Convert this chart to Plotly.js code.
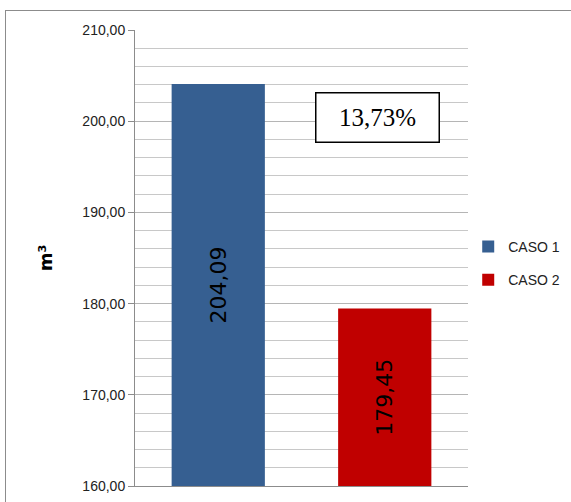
<!DOCTYPE html>
<html><head><meta charset="utf-8">
<script src="https://cdn.plot.ly/plotly-3.0.1.min.js"></script>
<style>
html,body{margin:0;padding:0;background:#fff;}
#frame{position:absolute;left:5px;top:10px;width:580px;height:510px;border:1.5px solid #8c8c8c;box-sizing:border-box;}
#chart{position:absolute;left:0;top:0;width:571px;height:502px;}
</style>
</head><body>
<div id="frame"></div>
<div id="chart"></div>
<script>
var categories = ['CASO 1', 'CASO 2'];
var values = [204.09, 179.45];
var labels = ['204,09', '179,45'];
var colors = ['#365F91', '#C00000'];
var diffLabel = '13,73%';
var axisMin = 160;

var traces = categories.map(function(c, i){
  return {
    type:'bar', name:c, x:[c], y:[values[i] - axisMin], base:axisMin, width:0.56,
    marker:{color:colors[i], line:{width:0}},
    text:[labels[i]], textposition:'inside', insidetextanchor:'middle',
    textangle:-90, textfont:{family:'DejaVu Sans', size:22, color:'#000'},
    hoverinfo:'none', legendgroup:'g'+i
  };
});

var layout = {
  width:571, height:502,
  margin:{l:135, r:103, t:30, b:16},
  paper_bgcolor:'rgba(0,0,0,0)', plot_bgcolor:'#fff',
  barmode:'overlay', separators:',.', showlegend:true,
  font:{family:'Liberation Sans, Arial', color:'#222'},
  xaxis:{type:'category', showticklabels:false, ticks:'', showgrid:false,
         showline:true, linecolor:'#8c8c8c', linewidth:1, zeroline:false, fixedrange:true},
  yaxis:{range:[160,210], dtick:10, tick0:160, tickformat:'.2f',
         showgrid:true, gridcolor:'#b5b5b5', gridwidth:1,
         minor:{dtick:2, showgrid:true, gridcolor:'#c8c8c8', gridwidth:1},
         ticks:'outside', ticklen:6, tickcolor:'#8c8c8c',
         showline:true, linecolor:'#8c8c8c', linewidth:1, zeroline:false,
         tickfont:{family:'Liberation Sans, Arial', size:14, color:'#222'},
         title:{text:'m³', standoff:25, font:{family:'DejaVu Sans', size:18, color:'#000', weight:'bold'}}},
  legend:{xref:'container', yref:'container', x:0.82, xanchor:'left', y:0.54, yanchor:'top',
          traceorder:'grouped', tracegroupgap:12, itemwidth:30,
          font:{family:'Liberation Sans, Arial', size:14, color:'#222'}, bgcolor:'rgba(0,0,0,0)'},
  annotations:[{xref:'paper', yref:'y', x:0.727, y:200.46, xanchor:'center', yanchor:'middle',
    text:diffLabel, showarrow:false,
    font:{family:'Liberation Serif, Times New Roman', size:25, color:'#000'},
    bordercolor:'#000', borderwidth:1.5, bgcolor:'#fff', width:118, height:44, borderpad:2}]
};
Plotly.newPlot('chart', traces, layout, {displayModeBar:false, staticPlot:true});
</script>
</body></html>
